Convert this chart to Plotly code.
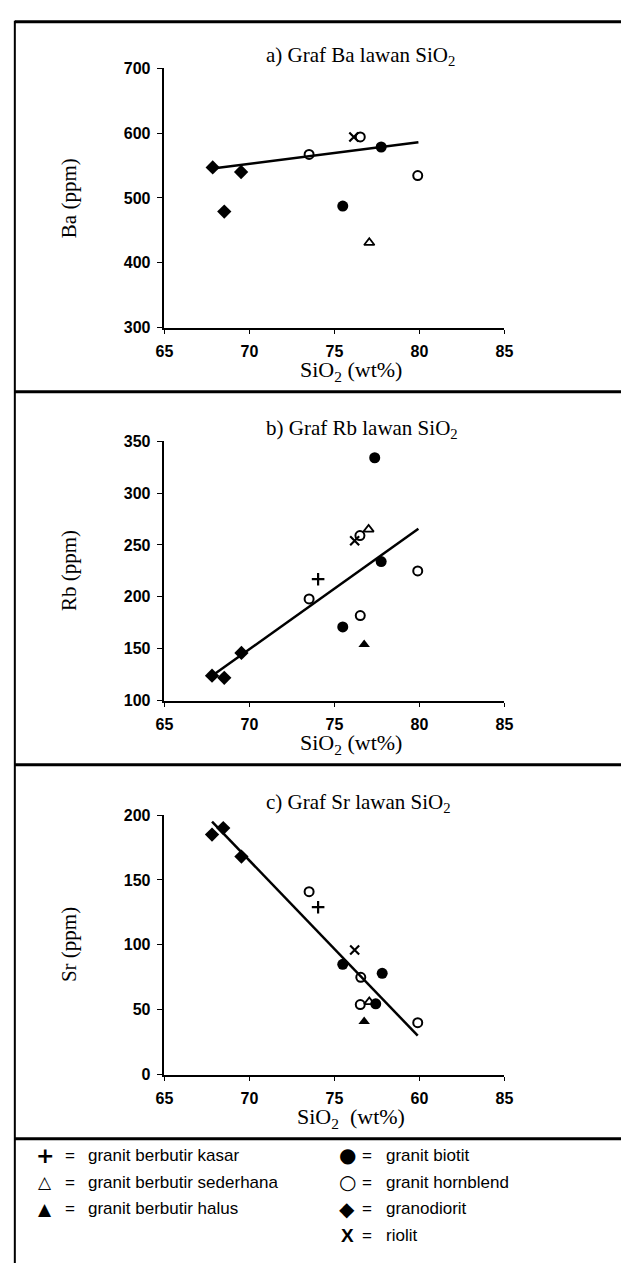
import plotly.graph_objects as go

W, H = 630, 1274

# ---------------- data ----------------
# Panel a: Ba vs SiO2
a_grd_x = [67.84, 68.52, 69.51]; a_grd_y = [547, 479, 540]
a_hbl_x = [73.51, 76.52, 79.9];  a_hbl_y = [567, 594, 534.5]
a_bio_x = [75.49, 77.75];        a_bio_y = [487.5, 578.5]
a_rio_x = [76.14];               a_rio_y = [594]
a_sed_x = [77.05];               a_sed_y = [431]
a_trend_x = [67.72, 79.94];      a_trend_y = [545, 586]

# Panel b: Rb vs SiO2
b_grd_x = [67.8, 68.52, 69.53];  b_grd_y = [124, 122, 146]
b_kas_x = [74.04];               b_kas_y = [217]
b_hbl_x = [73.51, 76.5, 76.52, 79.9]; b_hbl_y = [198, 259, 182, 225]
b_bio_x = [75.49, 77.37, 77.75]; b_bio_y = [171, 334, 234]
b_rio_x = [76.19];               b_rio_y = [254]
b_sed_x = [77.01];               b_sed_y = [265]
b_hal_x = [76.75];               b_hal_y = [154]
b_trend_x = [67.72, 79.94];      b_trend_y = [123, 265.5]

# Panel c: Sr vs SiO2
c_grd_x = [67.8, 68.46, 69.53];  c_grd_y = [185, 190, 168]
c_hbl_x = [73.51, 76.55, 76.52, 79.9]; c_hbl_y = [141, 75, 54, 40]
c_kas_x = [74.04];               c_kas_y = [129]
c_bio_x = [75.49, 77.81, 77.43]; c_bio_y = [85, 78, 54.5]
c_rio_x = [76.19];               c_rio_y = [96]
c_sed_x = [77.05];               c_sed_y = [56]
c_hal_x = [76.75];               c_hal_y = [41]
c_trend_x = [67.8, 79.9];        c_trend_y = [195, 30]

x_ticks = [65, 70, 75, 80, 85]
x_ticktext_ab = ["65", "70", "75", "80", "85"]
x_ticktext_c = ["65", "70", "75", "60", "85"]
a_yticks = [300, 400, 500, 600, 700]
b_yticks = [100, 150, 200, 250, 300, 350]
c_yticks = [0, 50, 100, 150, 200]

panel_titles = ["a) Graf Ba lawan SiO<sub>2</sub>",
                "b) Graf Rb lawan SiO<sub>2</sub>",
                "c) Graf Sr lawan SiO<sub>2</sub>"]
y_titles = ["Ba (ppm)", "Rb (ppm)", "Sr (ppm)"]
x_titles = ["SiO<sub>2</sub> (wt%)", "SiO<sub>2</sub> (wt%)", "SiO<sub>2</sub>  (wt%)"]

legend_left = [("+", "granit berbutir kasar"),
               ("\u25b3", "granit berbutir sederhana"),
               ("\u25b2", "granit berbutir halus")]
legend_right = [("\u25cf", "granit biotit"),
                ("\u25cb", "granit hornblend"),
                ("\u25c6", "granodiorit"),
                ("X", "riolit")]

# ---------------- layout helpers ----------------
def px(x):
    return x / W

def py(y):
    return 1 - y / H

SERIF = "Liberation Serif, Times New Roman, serif"
SANS = "Liberation Sans, Arial, sans-serif"

x_left, x_right = 160, 510
panels = [  # (top px, bottom px)
    (61, 324),
    (439, 702),
    (818, 1081),
]

fig = go.Figure()

styles = {
    "grd": dict(symbol="diamond", size=11, color="black", line=dict(width=0)),
    "hbl": dict(symbol="circle-open", size=9, color="black", line=dict(width=2, color="black")),
    "bio": dict(symbol="circle", size=11, color="black", line=dict(width=0)),
    "rio": dict(symbol="x-thin-open", size=9, color="black", line=dict(width=2.2, color="black")),
    "sed": dict(symbol="triangle-up-open", size=9, color="black", line=dict(width=1.8, color="black")),
    "hal": dict(symbol="triangle-up", size=10, color="black", line=dict(width=0)),
    "kas": dict(symbol="cross-thin-open", size=9, color="black", line=dict(width=2.2, color="black")),
}

panel_data = [
    dict(trend=(a_trend_x, a_trend_y),
         pts=[("grd", a_grd_x, a_grd_y), ("hbl", a_hbl_x, a_hbl_y), ("bio", a_bio_x, a_bio_y),
              ("rio", a_rio_x, a_rio_y), ("sed", a_sed_x, a_sed_y)]),
    dict(trend=(b_trend_x, b_trend_y),
         pts=[("grd", b_grd_x, b_grd_y), ("kas", b_kas_x, b_kas_y), ("hbl", b_hbl_x, b_hbl_y),
              ("bio", b_bio_x, b_bio_y), ("rio", b_rio_x, b_rio_y), ("sed", b_sed_x, b_sed_y),
              ("hal", b_hal_x, b_hal_y)]),
    dict(trend=(c_trend_x, c_trend_y),
         pts=[("grd", c_grd_x, c_grd_y), ("hbl", c_hbl_x, c_hbl_y), ("kas", c_kas_x, c_kas_y),
              ("bio", c_bio_x, c_bio_y), ("rio", c_rio_x, c_rio_y), ("sed", c_sed_x, c_sed_y),
              ("hal", c_hal_x, c_hal_y)]),
]
yticks_all = [a_yticks, b_yticks, c_yticks]
xticktexts = [x_ticktext_ab, x_ticktext_ab, x_ticktext_c]

annotations = []
shapes = []
layout_axes = {}
TICKFONT = dict(family=SANS, size=16, color="black", weight="bold")

for i, (pd_, (top, bot)) in enumerate(zip(panel_data, panels)):
    n = i + 1
    xa = "x" if n == 1 else f"x{n}"
    ya = "y" if n == 1 else f"y{n}"
    tx, ty = pd_["trend"]
    fig.add_trace(go.Scatter(x=tx, y=ty, mode="lines", line=dict(color="black", width=2.5),
                             xaxis=xa, yaxis=ya, showlegend=False, hoverinfo="skip"))
    for key, xs, ys in pd_["pts"]:
        fig.add_trace(go.Scatter(x=xs, y=ys, mode="markers", marker=styles[key],
                                 xaxis=xa, yaxis=ya, showlegend=False))
    yt = yticks_all[i]
    xkey = "xaxis" if n == 1 else f"xaxis{n}"
    ykey = "yaxis" if n == 1 else f"yaxis{n}"
    layout_axes[xkey] = dict(
        domain=[px(x_left), px(x_right)], anchor=ya, range=[65, 85],
        tickmode="array", tickvals=x_ticks, ticktext=xticktexts[i],
        ticks="outside", ticklen=4, tickwidth=1, tickcolor="black",
        ticklabelstandoff=4,
        showline=True, linecolor="black", linewidth=2, showgrid=False, zeroline=False,
        tickfont=TICKFONT,
    )
    layout_axes[ykey] = dict(
        domain=[py(bot), py(top)], anchor=xa, range=[yt[0], yt[-1]],
        tickmode="array", tickvals=yt,
        ticks="outside", ticklen=6, tickwidth=1, tickcolor="black",
        ticklabelstandoff=3,
        showline=True, linecolor="black", linewidth=1.5, showgrid=False, zeroline=False,
        tickfont=TICKFONT,
    )
    # panel title
    annotations.append(dict(text=panel_titles[i], x=px(262), y=py(top - 12), xref="paper", yref="paper",
                            xanchor="left", yanchor="middle", showarrow=False,
                            font=dict(family=SERIF, size=21, color="black")))
    # y title
    annotations.append(dict(text=y_titles[i], x=px(62), y=py((top + bot) / 2), xref="paper", yref="paper",
                            xanchor="center", yanchor="middle", textangle=-90, showarrow=False,
                            font=dict(family=SERIF, size=21, color="black")))
    # x title
    annotations.append(dict(text=x_titles[i], x=px(352), y=py(bot + 44), xref="paper", yref="paper",
                            xanchor="center", yanchor="middle", showarrow=False,
                            font=dict(family=SERIF, size=22, color="black")))
    # separator under panel
    shapes.append(dict(type="line", xref="paper", yref="paper", x0=px(6), x1=1,
                       y0=py(bot + 65), y1=py(bot + 65), line=dict(color="black", width=3)))

# top border and left border
shapes.append(dict(type="line", xref="paper", yref="paper", x0=px(6), x1=1,
                   y0=py(14), y1=py(14), line=dict(color="black", width=3)))
shapes.append(dict(type="line", xref="paper", yref="paper", x0=px(6), x1=px(6),
                   y0=py(13), y1=py(1272), line=dict(color="black", width=2)))

# legend
row_y = [1163, 1190, 1217, 1244]
LEGFONT = dict(family=SANS, size=17, color="black")
for j, (sym, txt) in enumerate(legend_left):
    annotations.append(dict(text=sym, x=px(37), y=py(row_y[j]), xref="paper", yref="paper",
                            xanchor="center", yanchor="middle", showarrow=False,
                            font=dict(family="DejaVu Sans", size=22 if sym == "+" else 17,
                                      color="black", weight="bold" if sym == "+" else "normal")))
    annotations.append(dict(text="=", x=px(63), y=py(row_y[j]), xref="paper", yref="paper",
                            xanchor="center", yanchor="middle", showarrow=False, font=LEGFONT))
    annotations.append(dict(text=txt, x=px(79), y=py(row_y[j]), xref="paper", yref="paper",
                            xanchor="left", yanchor="middle", showarrow=False, font=LEGFONT))
for j, (sym, txt) in enumerate(legend_right):
    annotations.append(dict(text=sym, x=px(348), y=py(row_y[j]), xref="paper", yref="paper",
                            xanchor="center", yanchor="middle", showarrow=False,
                            font=dict(family="DejaVu Sans" if sym != "X" else SANS,
                                      size=20 if sym != "X" else 19, color="black",
                                      weight="bold" if sym == "X" else "normal")))
    annotations.append(dict(text="=", x=px(369), y=py(row_y[j]), xref="paper", yref="paper",
                            xanchor="center", yanchor="middle", showarrow=False, font=LEGFONT))
    annotations.append(dict(text=txt, x=px(386), y=py(row_y[j]), xref="paper", yref="paper",
                            xanchor="left", yanchor="middle", showarrow=False, font=LEGFONT))

fig.update_layout(
    width=W, height=H, autosize=False,
    margin=dict(l=0, r=0, t=0, b=0),
    paper_bgcolor="white", plot_bgcolor="white",
    showlegend=False,
    annotations=annotations, shapes=shapes,
    **layout_axes,
)

fig.write_html("out.html")
